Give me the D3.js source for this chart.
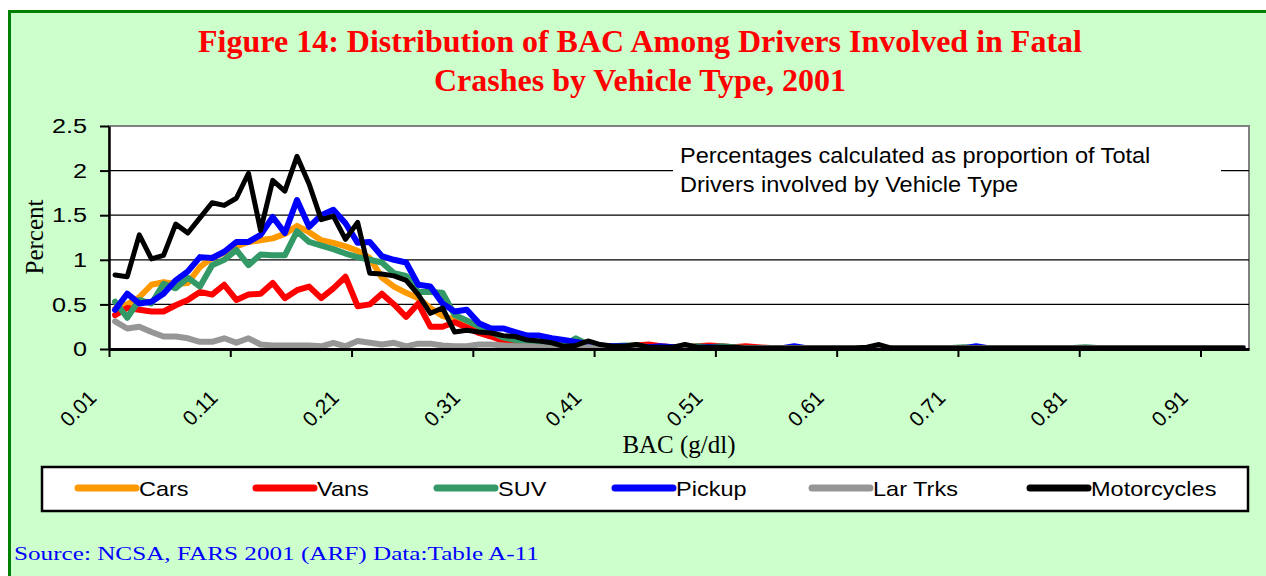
<!DOCTYPE html>
<html>
<head>
<meta charset="utf-8">
<script src="https://cdn.jsdelivr.net/npm/d3@7"></script>
<style>
    body { margin: 0; background: #ffffff; }
</style>
</head>
<body>
<div id="chart"></div>
<script>
// BAC categories 0.01 .. 0.94 (category axis)
const bacLabels = d3.range(1, 95).map(d => (d / 100).toFixed(2));
const tickLabels = ["0.01", "0.11", "0.21", "0.31", "0.41", "0.51", "0.61", "0.71", "0.81", "0.91"];
const yTicks = [0, 0.5, 1, 1.5, 2, 2.5];

const seriesNames = ["Cars", "Vans", "SUV", "Pickup", "Lar Trks", "Motorcycles"];
const seriesColors = ["#FF9900", "#FF0000", "#339966", "#0000FF", "#969696", "#000000"];

// percent of drivers
const cars = [0.45,0.50,0.58,0.72,0.75,0.73,0.74,0.92,1.02,1.08,
    1.15,1.20,1.22,1.24,1.29,1.38,1.31,1.22,1.19,1.15,
    1.10,1.02,0.80,0.70,0.63,0.57,0.46,0.37,0.33,0.28,
    0.19,0.15,0.12,0.10,0.08,0.06,0.05,0.04,0.03,0.03,
    0.02,0.02,0.02,0.02,0.01,0.01,0.01,0.01,0.01,0.01,
    0.01,0.01,0.01,0.01,0.01,0.01,0.01,0.01,0.01,0.01,
    0.01,0.01,0.01,0.01,0.01,0.01,0.01,0.01,0.01,0.01,
    0.01,0.01,0.01,0.01,0.01,0.01,0.01,0.01,0.01,0.01,
    0.01,0.01,0.01,0.01,0.01,0.01,0.01,0.01,0.01,0.01,
    0.01,0.01,0.01,0.01];
const vans = [0.38,0.46,0.44,0.42,0.42,0.49,0.55,0.64,0.61,0.72,
    0.55,0.61,0.62,0.74,0.57,0.66,0.70,0.57,0.68,0.81,
    0.48,0.50,0.62,0.50,0.36,0.51,0.25,0.25,0.30,0.24,
    0.18,0.14,0.09,0.08,0.06,0.05,0.04,0.03,0.03,0.02,
    0.03,0.02,0.03,0.04,0.05,0.03,0.02,0.02,0.03,0.04,
    0.03,0.02,0.03,0.02,0.01,0.01,0.01,0.01,0.01,0.01,
    0.01,0.01,0.01,0.01,0.01,0.01,0.01,0.01,0.01,0.01,
    0.01,0.01,0.01,0.01,0.01,0.01,0.01,0.01,0.01,0.01,
    0.01,0.01,0.01,0.01,0.01,0.01,0.01,0.01,0.01,0.01,
    0.01,0.01,0.01,0.01];
const suv = [0.53,0.35,0.55,0.51,0.73,0.68,0.80,0.70,0.94,1.00,
    1.11,0.94,1.06,1.05,1.05,1.32,1.20,1.16,1.12,1.07,
    1.03,1.00,0.97,0.85,0.82,0.64,0.64,0.63,0.38,0.32,
    0.25,0.19,0.13,0.10,0.08,0.06,0.05,0.04,0.12,0.05,
    0.03,0.03,0.04,0.04,0.02,0.02,0.02,0.02,0.03,0.02,
    0.03,0.02,0.01,0.01,0.01,0.01,0.01,0.01,0.01,0.01,
    0.01,0.01,0.01,0.01,0.01,0.01,0.01,0.01,0.01,0.01,
    0.02,0.01,0.01,0.01,0.01,0.01,0.01,0.01,0.01,0.01,
    0.02,0.01,0.01,0.01,0.01,0.01,0.01,0.01,0.01,0.01,
    0.01,0.01,0.01,0.01];
const pickup = [0.44,0.62,0.51,0.53,0.62,0.77,0.87,1.03,1.02,1.09,
    1.20,1.20,1.28,1.48,1.30,1.67,1.37,1.50,1.56,1.41,
    1.19,1.20,1.04,1.00,0.97,0.72,0.70,0.51,0.42,0.44,
    0.29,0.23,0.23,0.19,0.15,0.15,0.12,0.10,0.08,0.06,
    0.04,0.03,0.03,0.02,0.02,0.03,0.02,0.02,0.01,0.02,
    0.01,0.01,0.01,0.01,0.01,0.01,0.03,0.01,0.01,0.01,
    0.01,0.01,0.01,0.01,0.01,0.01,0.01,0.01,0.01,0.01,
    0.01,0.03,0.01,0.01,0.01,0.01,0.01,0.01,0.01,0.01,
    0.01,0.01,0.01,0.01,0.01,0.01,0.01,0.01,0.01,0.01,
    0.01,0.01,0.01,0.01];
const larTrks = [0.31,0.23,0.25,0.19,0.14,0.14,0.12,0.08,0.08,0.12,
    0.07,0.12,0.05,0.04,0.04,0.04,0.04,0.03,0.07,0.03,
    0.09,0.07,0.05,0.07,0.03,0.06,0.06,0.04,0.03,0.03,
    0.05,0.05,0.04,0.03,0.03,0.02,0.02,0.02,0.01,0.02,
    0.01,0.01,0.01,0.01,0.01,0.01,0.01,0.01,0.01,0.01,
    0.01,0.01,0.01,0.01,0.01,0.01,0.01,0.01,0.01,0.01,
    0.01,0.01,0.01,0.01,0.01,0.01,0.01,0.01,0.01,0.01,
    0.01,0.01,0.01,0.01,0.01,0.01,0.01,0.01,0.01,0.01,
    0.01,0.01,0.01,0.01,0.01,0.01,0.01,0.01,0.01,0.01,
    0.01,0.01,0.01,0.01];
const motorcycles = [0.83,0.81,1.28,1.01,1.05,1.40,1.30,1.47,1.64,1.61,
    1.69,1.97,1.33,1.89,1.77,2.16,1.85,1.45,1.49,1.23,
    1.42,0.85,0.84,0.82,0.77,0.61,0.40,0.46,0.19,0.21,
    0.19,0.18,0.15,0.14,0.10,0.09,0.07,0.03,0.04,0.09,
    0.05,0.03,0.03,0.05,0.02,0.02,0.02,0.05,0.02,0.02,
    0.02,0.02,0.01,0.01,0.01,0.01,0.01,0.01,0.01,0.01,
    0.01,0.01,0.02,0.05,0.01,0.01,0.01,0.01,0.01,0.01,
    0.01,0.01,0.01,0.01,0.01,0.01,0.01,0.01,0.01,0.01,
    0.01,0.01,0.01,0.01,0.01,0.01,0.01,0.01,0.01,0.01,
    0.01,0.01,0.01,0.01];

const seriesValues = [cars, vans, suv, pickup, larTrks, motorcycles];

const serif = "'Liberation Serif', 'Times New Roman', serif";
const sans = "'Liberation Sans', Arial, sans-serif";


class BacVis {

    constructor(_parentElement) {
        this.parentElement = _parentElement;
        this.initVis();
    }

    initVis() {
        let vis = this;

        vis.width = 1266;
        vis.height = 576;
        vis.plot = {left: 109, right: 1249, top: 126, bottom: 349};

        vis.svg = d3.select("#" + vis.parentElement).append("svg")
            .attr("width", vis.width)
            .attr("height", vis.height)
            .style("display", "block");

        // green frame
        vis.svg.append("rect")
            .attr("x", 9.5)
            .attr("y", 11.5)
            .attr("width", 1300)
            .attr("height", 600)
            .attr("fill", "#CCFFCC")
            .attr("stroke", "#008000")
            .attr("stroke-width", 3);

        // title
        vis.svg.append("text")
            .attr("x", 640).attr("y", 52)
            .attr("text-anchor", "middle")
            .attr("font-family", serif).attr("font-weight", "bold")
            .attr("font-size", 32).attr("fill", "#FF0000")
            .text("Figure 14: Distribution of BAC Among Drivers Involved in Fatal");
        vis.svg.append("text")
            .attr("x", 640).attr("y", 91)
            .attr("text-anchor", "middle")
            .attr("font-family", serif).attr("font-weight", "bold")
            .attr("font-size", 32).attr("fill", "#FF0000")
            .text("Crashes by Vehicle Type, 2001");

        vis.x = d3.scaleBand()
            .domain(bacLabels)
            .range([vis.plot.left, vis.plot.right]);

        vis.xIdx = d3.scaleLinear()
            .domain([0, bacLabels.length])
            .range([vis.plot.left, vis.plot.right]);

        vis.y = d3.scaleLinear()
            .domain([0, 2.5])
            .range([vis.plot.bottom, vis.plot.top]);

        // plot area
        vis.svg.append("rect")
            .attr("x", vis.plot.left).attr("y", vis.plot.top)
            .attr("width", vis.plot.right - vis.plot.left)
            .attr("height", vis.plot.bottom - vis.plot.top)
            .attr("fill", "#ffffff")
            .attr("stroke", "#808080")
            .attr("stroke-width", 2);

        // gridlines
        vis.svg.append("g")
            .selectAll("line")
            .data(yTicks.filter(d => d > 0 && d < 2.5))
            .enter().append("line")
            .attr("x1", vis.plot.left).attr("x2", vis.plot.right)
            .attr("y1", d => vis.y(d)).attr("y2", d => vis.y(d))
            .attr("stroke", "#000").attr("stroke-width", 1.2);

        // annotation box (hides part of the 2.0 gridline)
        vis.svg.append("rect")
            .attr("x", 673).attr("y", 140)
            .attr("width", 548).attr("height", 62)
            .attr("fill", "#ffffff");
        vis.svg.append("text")
            .attr("transform", "translate(680,163) scale(1.07,1)")
            .attr("font-family", sans).attr("font-size", 22)
            .text("Percentages calculated as proportion of Total");
        vis.svg.append("text")
            .attr("transform", "translate(680,192) scale(1.07,1)")
            .attr("font-family", sans).attr("font-size", 22)
            .text("Drivers involved by Vehicle Type");

        vis.updateVis();
    }

    updateVis() {
        let vis = this;

        let line = d3.line()
            .x((d, i) => vis.x(bacLabels[i]) + vis.x.bandwidth() / 2)
            .y(d => vis.y(d));

        vis.svg.append("g")
            .selectAll("path")
            .data(seriesValues)
            .enter().append("path")
            .attr("d", d => line(d))
            .attr("fill", "none")
            .attr("stroke", (d, i) => seriesColors[i])
            .attr("stroke-width", (d, i) => i === 5 ? 5 : 6)
            .attr("stroke-linejoin", "round")
            .attr("stroke-linecap", "round");

        // y axis
        let yAxis = vis.svg.append("g")
            .attr("transform", `translate(${vis.plot.left},0)`)
            .call(d3.axisLeft(vis.y).tickValues(yTicks).tickSize(9).tickSizeOuter(0).tickFormat(d => String(d)));
        yAxis.select(".domain").attr("stroke", "#000").attr("stroke-width", 2.5);
        yAxis.selectAll(".tick line").attr("stroke", "#000").attr("stroke-width", 2);
        yAxis.selectAll(".tick text")
            .attr("x", null)
            .attr("transform", "translate(-22,0) scale(1.2,1)")
            .attr("font-family", sans).attr("font-size", 21).attr("fill", "#000");

        // x axis: ticks between categories every 10
        let xAxis = vis.svg.append("g")
            .attr("transform", `translate(0,${vis.plot.bottom})`)
            .call(d3.axisBottom(vis.xIdx)
                .tickValues(tickLabels.map(t => bacLabels.indexOf(t)))
                .tickSize(8).tickSizeOuter(0)
                .tickFormat(i => bacLabels[i]));
        xAxis.select(".domain").attr("stroke", "#000").attr("stroke-width", 3);
        xAxis.selectAll(".tick line").attr("stroke", "#000").attr("stroke-width", 2);
        xAxis.selectAll(".tick text")
            .attr("x", 0).attr("y", 0).attr("dy", "0.35em")
            .attr("transform", "translate(-17,45) rotate(-45)")
            .attr("text-anchor", "end")
            .attr("font-family", sans).attr("font-size", 21).attr("fill", "#000");

        // axis titles
        vis.svg.append("text")
            .attr("x", (vis.plot.left + vis.plot.right) / 2).attr("y", 453)
            .attr("text-anchor", "middle")
            .attr("font-family", serif).attr("font-size", 25)
            .text("BAC (g/dl)");
        vis.svg.append("text")
            .attr("transform", "translate(43,237) rotate(-90)")
            .attr("text-anchor", "middle")
            .attr("font-family", serif).attr("font-size", 25)
            .text("Percent");

        // legend
        let legendX = [78, 256, 437, 615, 812, 1030];
        vis.svg.append("rect")
            .attr("x", 42).attr("y", 467)
            .attr("width", 1206).attr("height", 44)
            .attr("fill", "#ffffff")
            .attr("stroke", "#000").attr("stroke-width", 2.5);

        let legend = vis.svg.append("g")
            .selectAll("g")
            .data(seriesNames)
            .enter().append("g")
            .attr("transform", (d, i) => `translate(${legendX[i]},488)`);
        legend.append("line")
            .attr("x1", 0).attr("x2", 58)
            .attr("stroke", (d, i) => seriesColors[i])
            .attr("stroke-width", 7)
            .attr("stroke-linecap", "round");
        legend.append("text")
            .attr("transform", "translate(61,8) scale(1.12,1)")
            .attr("font-family", sans).attr("font-size", 21)
            .text(d => d);

        // source
        vis.svg.append("text")
            .attr("transform", "translate(14,560) scale(1.4,1)")
            .attr("font-family", serif).attr("font-size", 18)
            .attr("fill", "#0000FF")
            .text("Source: NCSA, FARS 2001 (ARF) Data:Table A-11");
    }
}

new BacVis("chart");
</script>
</body>
</html>
